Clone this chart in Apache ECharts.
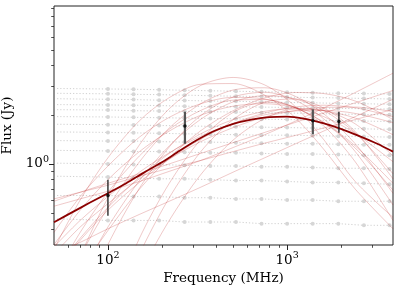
<!DOCTYPE html>
<html><head><meta charset="utf-8">
<script src="https://cdn.jsdelivr.net/npm/echarts@6/dist/echarts.min.js"></script>
<style>html,body{margin:0;padding:0;background:#fff}#c{width:399px;height:289px}</style>
</head><body><div id="c"></div>
<script>
// ---- axis ticks ----
const xTickMajor = [100, 1000];
const xTickMinor = [60, 70, 80, 90, 200, 300, 400, 500, 600, 700, 800, 900, 2000, 3000];
const yTickMajor = [1];
const yTickMinor = [0.4, 0.5, 0.6, 0.7, 0.8, 0.9, 2, 3, 4, 5, 6, 7, 8, 9];

// ---- grey dotted reference tracks (first point drawn without a marker) ----
const gridFreq = [52, 100, 139, 193, 268, 373, 518, 720, 1000, 1389, 1931, 2683, 3728];
const grey01 = [2.90, 2.88, 2.87, 2.85, 2.83, 2.81, 2.79, 2.77, 2.75, 2.73, 2.71, 2.70, 2.68];
const grey02 = [2.71, 2.69, 2.67, 2.66, 2.64, 2.62, 2.60, 2.59, 2.57, 2.55, 2.54, 2.52, 2.50];
const grey03 = [2.51, 2.49, 2.48, 2.46, 2.45, 2.43, 2.42, 2.40, 2.38, 2.37, 2.35, 2.34, 2.32];
const grey04 = [2.31, 2.30, 2.29, 2.28, 2.26, 2.25, 2.24, 2.23, 2.22, 2.20, 2.19, 2.18, 2.17];
const grey05 = [2.15, 2.14, 2.12, 2.11, 2.10, 2.09, 2.08, 2.06, 2.05, 2.04, 2.02, 2.01, 2.00];
const grey06 = [1.95, 1.94, 1.93, 1.92, 1.91, 1.90, 1.89, 1.88, 1.87, 1.86, 1.84, 1.83, 1.82];
const grey07 = [1.75, 1.74, 1.73, 1.72, 1.71, 1.70, 1.69, 1.68, 1.67, 1.66, 1.65, 1.64, 1.63];
const grey08 = [1.57, 1.56, 1.55, 1.54, 1.53, 1.52, 1.51, 1.50, 1.50, 1.49, 1.48, 1.47, 1.46];
const grey09 = [1.39, 1.38, 1.38, 1.37, 1.36, 1.36, 1.35, 1.34, 1.33, 1.33, 1.32, 1.31, 1.31];
const grey10 = [1.21, 1.20, 1.19, 1.19, 1.18, 1.17, 1.17, 1.16, 1.15, 1.15, 1.14, 1.13, 1.13];
const grey11 = [1.01, 1.00, 0.99, 0.99, 0.98, 0.97, 0.97, 0.96, 0.96, 0.95, 0.94, 0.94, 0.93];
const grey12 = [0.84, 0.83, 0.82, 0.81, 0.81, 0.80, 0.79, 0.79, 0.78, 0.77, 0.77, 0.76, 0.75];
const grey13 = [0.64, 0.64, 0.63, 0.63, 0.62, 0.62, 0.61, 0.61, 0.60, 0.60, 0.59, 0.59, 0.59];
const grey14 = [0.46, 0.45, 0.45, 0.45, 0.44, 0.44, 0.44, 0.43, 0.43, 0.43, 0.43, 0.42, 0.42];
const greyTracks = [grey01, grey02, grey03, grey04, grey05, grey06, grey07, grey08, grey09, grey10, grey11, grey12, grey13, grey14];

// ---- light red posterior sample curves ----
const sampleFreq = [50, 70, 100, 150, 220, 330, 500, 750, 1100, 1600, 2400, 3900];
const samp01 = [0.106, 0.27, 0.62, 1.31, 2.18, 3.03, 3.39, 3.05, 2.27, 1.41, 0.78, 0.47];
const samp02 = [0.30, 0.60, 1.09, 1.84, 2.55, 3.08, 3.11, 2.64, 1.94, 1.23, 0.70, 0.40];
const samp03 = [0.12, 0.27, 0.54, 1.03, 1.66, 2.34, 2.84, 2.93, 2.61, 2.03, 1.33, 0.66];
const samp04 = [0.12, 0.22, 0.39, 0.70, 1.09, 1.60, 2.12, 2.54, 2.74, 2.70, 2.43, 1.87];
const samp05 = [0.095, 0.20, 0.41, 0.79, 1.29, 1.88, 2.40, 2.62, 2.51, 2.13, 1.55, 0.87];
const samp06 = [0.28, 0.41, 0.57, 0.81, 1.07, 1.37, 1.67, 1.94, 2.12, 2.22, 2.23, 2.09];
const samp07 = [0.22, 0.35, 0.54, 0.83, 1.16, 1.53, 1.87, 2.10, 2.19, 2.12, 1.91, 1.51];
const samp08 = [0.20, 0.38, 0.67, 1.12, 1.63, 2.13, 2.46, 2.48, 2.23, 1.79, 1.25, 0.69];
const samp09 = [0.31, 0.45, 0.63, 0.89, 1.17, 1.48, 1.77, 2.00, 2.11, 2.13, 2.04, 1.79];
const samp10 = [0.32, 0.52, 0.80, 1.19, 1.59, 1.99, 2.26, 2.34, 2.22, 1.95, 1.54, 1.03];
const samp11 = [0.22, 0.34, 0.52, 0.77, 1.07, 1.42, 1.77, 2.05, 2.23, 2.29, 2.21, 1.95];
const samp12 = [0.38, 0.63, 0.97, 1.46, 1.93, 2.34, 2.56, 2.50, 2.22, 1.80, 1.29, 0.76];
const samp13 = [0.59, 0.67, 0.76, 0.87, 1.00, 1.16, 1.35, 1.56, 1.79, 2.05, 2.37, 2.82];
const samp14 = [0.61, 0.67, 0.74, 0.84, 0.94, 1.05, 1.19, 1.34, 1.49, 1.66, 1.87, 2.16];
const samp15 = [0.55, 0.61, 0.68, 0.78, 0.90, 1.05, 1.26, 1.51, 1.82, 2.20, 2.74, 3.60];
const samp16 = [0.28, 0.33, 0.40, 0.49, 0.59, 0.72, 0.89, 1.09, 1.32, 1.59, 1.95, 2.49];
const samp17 = [0.01, 0.03, 0.10, 0.28, 0.62, 1.19, 1.87, 2.39, 2.50, 2.20, 1.58, 0.81];
const samp18 = [0.01, 0.04, 0.12, 0.35, 0.76, 1.41, 2.07, 2.39, 2.23, 1.71, 1.03, 0.45];
const samp19 = [0.01, 0.03, 0.08, 0.21, 0.45, 0.86, 1.40, 1.90, 2.17, 2.12, 1.76, 1.12];
const samp20 = [0.05, 0.13, 0.32, 0.71, 1.27, 1.98, 2.57, 2.75, 2.47, 1.89, 1.19, 0.56];
const samples = [samp01, samp02, samp03, samp04, samp05, samp06, samp07, samp08, samp09, samp10,
                 samp11, samp12, samp13, samp14, samp15, samp16, samp17, samp18, samp19, samp20];

// ---- best-fit model (dark red) ----
const modelFreq = [50, 63, 79, 100, 126, 158, 200, 251, 316, 398, 501, 631, 794, 1000, 1259, 1585, 1995, 2512, 3162, 3900];
const modelFlux = [0.439, 0.504, 0.577, 0.661, 0.759, 0.881, 1.023, 1.202, 1.406, 1.603, 1.762, 1.871, 1.936, 1.950, 1.888, 1.778, 1.641, 1.486, 1.334, 1.189];

// ---- measurements ----
const obsFreq = [100, 269, 1392, 1946];
const obsFlux = [0.64, 1.71, 1.84, 1.82];
const obsErr  = [0.16, 0.38, 0.32, 0.27];

const FONT = 'DejaVu Serif';
const chart = echarts.init(document.getElementById('c'), null, {renderer: 'canvas'});

function powLabel(v) {
  const e = Math.round(Math.log10(v));
  return '{b|10}{s|' + e + '}';
}
const richLab = {
  b: {fontFamily: FONT, fontSize: 13.5, color: '#000'},
  s: {fontFamily: FONT, fontSize: 9.5, color: '#000', padding: [0, 0, 8, 0]}
};

const series = [];
greyTracks.forEach(tr => {
  series.push({
    type: 'line', xAxisIndex: 0, yAxisIndex: 0, silent: true, animation: false,
    data: gridFreq.map((f, i) => i === 0 ? {value: [f, tr[i]], symbol: 'none'} : [f, tr[i]]),
    symbol: 'circle', symbolSize: 4,
    itemStyle: {color: '#d6d6d6'},
    lineStyle: {color: '#d0d0d0', width: 1, type: [1.2, 2]},
    z: 1
  });
});
samples.forEach(s => {
  series.push({
    type: 'line', xAxisIndex: 0, yAxisIndex: 0, silent: true, animation: false,
    data: sampleFreq.map((f, i) => [f, s[i]]),
    smooth: 0.3, showSymbol: false, symbol: 'none',
    lineStyle: {color: 'rgba(190,30,30,0.24)', width: 1},
    z: 2
  });
});
series.push({
  type: 'line', xAxisIndex: 0, yAxisIndex: 0, silent: true, animation: false,
  data: modelFreq.map((f, i) => [f, modelFlux[i]]),
  smooth: 0.3, symbol: 'none',
  lineStyle: {color: '#8b0000', width: 1.8},
  z: 3
});
series.push({
  type: 'custom', xAxisIndex: 0, yAxisIndex: 0, silent: true, animation: false,
  data: obsFreq.map((f, i) => [f, obsFlux[i] - obsErr[i], obsFlux[i] + obsErr[i]]),
  encode: {x: 0, y: [1, 2]},
  renderItem: function (params, api) {
    const i = params.dataIndex;
    const p1 = api.coord([api.value(0), api.value(1)]);
    const p2 = api.coord([api.value(0), api.value(2)]);
    const thick = (i === 1 || i === 2);
    return {type: 'line', shape: {x1: p1[0], y1: p1[1], x2: p2[0], y2: p2[1]},
            style: {stroke: thick ? '#555' : '#1a1a1a', lineWidth: thick ? 2.2 : 1.3}};
  },
  z: 4
});
series.push({
  type: 'scatter', xAxisIndex: 0, yAxisIndex: 0, silent: true, animation: false,
  data: obsFreq.map((f, i) => [f, obsFlux[i]]),
  symbol: 'circle', symbolSize: 3.5, itemStyle: {color: '#000'}, z: 5
});

const option = {
  animation: false,
  backgroundColor: '#fff',
  grid: {left: 54, right: 6, top: 6, bottom: 44, containLabel: false, outerBoundsMode: 'none',
         show: true, borderColor: '#222', borderWidth: 1, backgroundColor: 'transparent'},
  xAxis: [
    {type: 'log', logBase: 10, min: 50, max: 3900, position: 'bottom',
     name: 'Frequency (MHz)', nameLocation: 'middle', nameGap: 20,
     nameTextStyle: {fontFamily: FONT, fontSize: 13.5, color: '#000'},
     axisLine: {show: false}, splitLine: {show: false},
     axisTick: {show: true, customValues: xTickMajor, length: 5, lineStyle: {color: '#222', width: 1}},
     axisLabel: {customValues: xTickMajor, margin: 6, formatter: powLabel, rich: richLab}},
    {type: 'log', logBase: 10, min: 50, max: 3900, position: 'bottom',
     axisLine: {show: false}, splitLine: {show: false},
     axisTick: {show: true, customValues: xTickMinor, length: 2.8, lineStyle: {color: '#222', width: 0.8}},
     axisLabel: {show: false}}
  ],
  yAxis: [
    {type: 'log', logBase: 10, min: 0.318, max: 9.3, position: 'left',
     name: 'Flux (Jy)', nameLocation: 'middle', nameGap: 30,
     nameTextStyle: {fontFamily: FONT, fontSize: 13.5, color: '#000'},
     axisLine: {show: false}, splitLine: {show: false},
     axisTick: {show: true, customValues: yTickMajor, length: 5, lineStyle: {color: '#222', width: 1}},
     axisLabel: {customValues: yTickMajor, margin: 5, formatter: powLabel, rich: richLab}},
    {type: 'log', logBase: 10, min: 0.318, max: 9.3, position: 'left',
     axisLine: {show: false}, splitLine: {show: false},
     axisTick: {show: true, customValues: yTickMinor, length: 2.8, lineStyle: {color: '#222', width: 0.8}},
     axisLabel: {show: false}}
  ],
  series: series
};
chart.setOption(option);
</script>
</body></html>
